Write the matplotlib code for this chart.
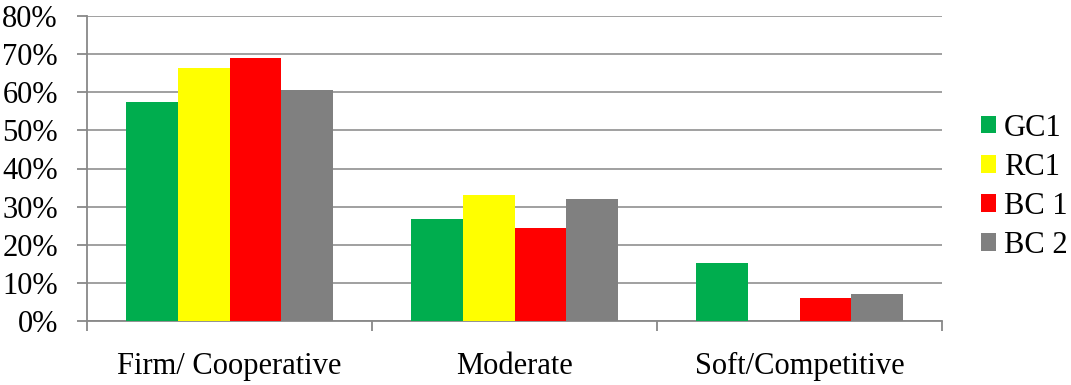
import numpy as np
import matplotlib.pyplot as plt

categories = ["Firm/ Cooperative", "Moderate", "Soft/Competitive"]
series = ["GC1", "RC1", "BC 1", "BC 2"]
gc1 = [57.5, 26.7, 15.1]
rc1 = [66.4, 33.0, 0.0]
bc1 = [69.1, 24.3, 6.0]
bc2 = [60.5, 31.9, 7.0]
colors = ["#00AD4E", "#FFFF00", "#FF0000", "#808080"]

plt.rcParams["font.family"] = ["Liberation Serif", "DejaVu Serif"]

fig = plt.figure(figsize=(10.71, 3.85), dpi=100)
ax = fig.add_axes([87 / 1071, 1 - 321 / 385, (942 - 87) / 1071, (321 - 16) / 385])

x = np.arange(len(categories))
width = 0.182
for i, (name, vals) in enumerate(zip(series, [gc1, rc1, bc1, bc2])):
    ax.bar(x + (i - 1.5) * width, vals, width, color=colors[i], label=name, zorder=3)

ax.set_xlim(-0.5, len(categories) - 0.5)
ax.set_ylim(0, 80)
ax.set_yticks(range(0, 81, 10))
ax.set_yticklabels([f"{v}%" for v in range(0, 81, 10)], fontsize=22)
ax.yaxis.grid(True, color="#999999", linewidth=1.3, zorder=0)

# category labels centred, tick marks on the group boundaries
ax.set_xticks(x)
ax.set_xticklabels(categories, fontsize=22)
ax.tick_params(axis="x", length=0, pad=22)
ax.set_xticks(np.arange(-0.5, len(categories)), minor=True)
ax.tick_params(axis="x", which="minor", length=7, width=1.3, color="#888888")
ax.tick_params(axis="y", length=7, width=1.3, color="#888888", pad=14)

for side in ["top", "right"]:
    ax.spines[side].set_visible(False)
for side in ["left", "bottom"]:
    ax.spines[side].set_color("#888888")
    ax.spines[side].set_linewidth(1.3)

ax.legend(loc="center left", bbox_to_anchor=(0.916, 0.515),
          bbox_transform=fig.transFigure, frameon=False, borderpad=0,
          borderaxespad=0, fontsize=22, handlelength=0.5, handleheight=0.5,
          handletextpad=0.25, labelspacing=0.33)

fig.savefig("out.png", dpi=100)
